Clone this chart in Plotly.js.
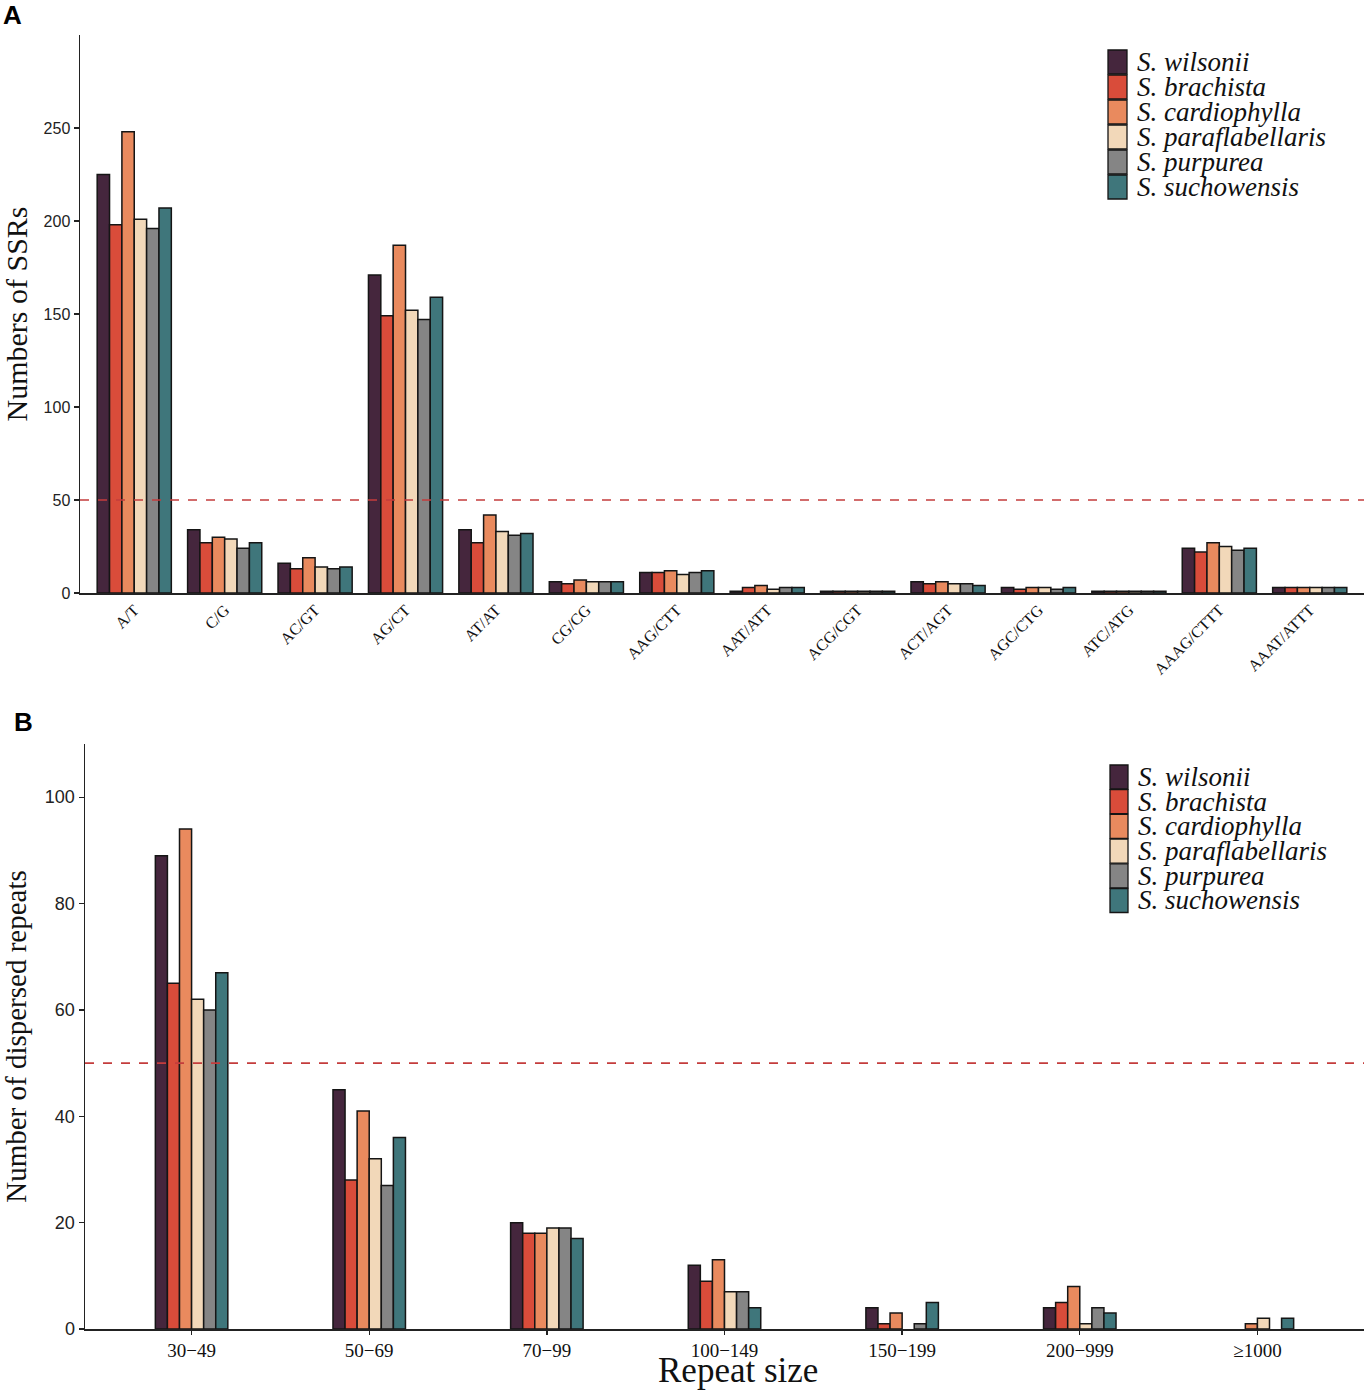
<!DOCTYPE html>
<html>
<head>
<meta charset="utf-8">
<script src="https://cdn.plot.ly/plotly-3.0.1.min.js"></script>
<style>html,body{margin:0;padding:0;background:#fff;} #chart{width:1366px;height:1392px;}</style>
</head>
<body>
<div id="chart"></div>
<script>
// ---------- data ----------
const species = ['S. wilsonii','S. brachista','S. cardiophylla','S. paraflabellaris','S. purpurea','S. suchowensis'];
const speciesColors = ['#45263d','#d94c3a','#e98a5e','#f2d8b9','#858585','#3f767b'];

const ssrTypes = ['A/T','C/G','AC/GT','AG/CT','AT/AT','CG/CG','AAG/CTT','AAT/ATT','ACG/CGT','ACT/AGT','AGC/CTG','ATC/ATG','AAAG/CTTT','AAAT/ATTT'];
const ssrWilsonii        = [225,34,16,171,34,6,11,1,1,6,3,1,24,3];
const ssrBrachista       = [198,27,13,149,27,5,11,3,1,5,2,1,22,3];
const ssrCardiophylla    = [248,30,19,187,42,7,12,4,1,6,3,1,27,3];
const ssrParaflabellaris = [201,29,14,152,33,6,10,2,1,5,3,1,25,3];
const ssrPurpurea        = [196,24,13,147,31,6,11,3,1,5,2,1,23,3];
const ssrSuchowensis     = [207,27,14,159,32,6,12,3,1,4,3,1,24,3];

const repeatSizes = ['30\u221249','50\u221269','70\u221299','100\u2212149','150\u2212199','200\u2212999','\u22651000'];
const repWilsonii        = [89,45,20,12,4,4,null];
const repBrachista       = [65,28,18,9,1,5,null];
const repCardiophylla    = [94,41,18,13,3,8,1];
const repParaflabellaris = [62,32,19,7,null,1,2];
const repPurpurea        = [60,27,19,7,1,4,null];
const repSuchowensis     = [67,36,17,4,5,3,2];

const thresholdA = 50;
const thresholdB = 50;
const yTicksA = [0,50,100,150,200,250];
const yTicksB = [0,20,40,60,80,100];

// ---------- traces ----------
const ssrSeries = [ssrWilsonii,ssrBrachista,ssrCardiophylla,ssrParaflabellaris,ssrPurpurea,ssrSuchowensis];
const repSeries = [repWilsonii,repBrachista,repCardiophylla,repParaflabellaris,repPurpurea,repSuchowensis];
const barW_B = 0.068;
const traces = [];
species.forEach((s,i)=>{
  traces.push({type:'bar', name:s, x:ssrTypes, y:ssrSeries[i], xaxis:'x', yaxis:'y',
    marker:{color:speciesColors[i], line:{color:'#151515', width:1.5}}, showlegend:false, hoverinfo:'x+y+name'});
});
species.forEach((s,i)=>{
  traces.push({type:'bar', name:s, x:repeatSizes, y:repSeries[i], xaxis:'x2', yaxis:'y2',
    width:barW_B, offset:-3*barW_B + i*barW_B,
    marker:{color:speciesColors[i], line:{color:'#151515', width:1.5}}, showlegend:false, hoverinfo:'x+y+name'});
});

// ---------- layout helpers ----------
const W = 1366, H = 1392;
const px = v => v / W;
const py = v => 1 - v / H;

const shapes = [
  {type:'line', xref:'x domain', x0:0, x1:1, yref:'y', y0:thresholdA, y1:thresholdA,
   line:{color:'#c43c3c', width:1.6, dash:'dash'}, layer:'above'},
  {type:'line', xref:'x2 domain', x0:0, x1:1, yref:'y2', y0:thresholdB, y1:thresholdB,
   line:{color:'#c43c3c', width:1.6, dash:'dash'}, layer:'above'}
];
const annotations = [
  {text:'<b>A</b>', xref:'paper', yref:'paper', x:px(1), y:py(-2), xanchor:'left', yanchor:'top', showarrow:false,
   font:{family:'Liberation Sans, Arial, sans-serif', size:26, color:'#000'}},
  {text:'<b>B</b>', xref:'paper', yref:'paper', x:px(12), y:py(705), xanchor:'left', yanchor:'top', showarrow:false,
   font:{family:'Liberation Sans, Arial, sans-serif', size:26, color:'#000'}},
  {text:'Repeat size', xref:'paper', yref:'paper', x:px(738), y:py(1392), xanchor:'center', yanchor:'bottom', showarrow:false,
   font:{family:'Liberation Serif, serif', size:35, color:'#111'}}
];

// custom legends (swatch + italic label)
function addLegend(x0, yCenter0, step, swW, swH){
  species.forEach((s,i)=>{
    const yc = yCenter0 + i*step;
    shapes.push({type:'rect', xref:'paper', yref:'paper', x0:px(x0), x1:px(x0+swW), y0:py(yc+swH/2), y1:py(yc-swH/2),
      fillcolor:speciesColors[i], line:{color:'#151515', width:1.3}});
    annotations.push({text:'<i>'+s+'</i>', xref:'paper', yref:'paper', x:px(x0+swW+8), y:py(yc), xanchor:'left', yanchor:'middle',
      showarrow:false, font:{family:'Liberation Serif, serif', size:27, color:'#111'}});
  });
}
addLegend(1108, 62, 25, 19, 24);
addLegend(1110, 777, 24.7, 18, 24);

const axisLine = {showline:true, linecolor:'#222', linewidth:1.5, zeroline:false, showgrid:false};

const layout = {
  width:W, height:H,
  margin:{l:0,r:0,t:0,b:0},
  paper_bgcolor:'#fff', plot_bgcolor:'#fff',
  barmode:'group',
  bargap:0.18,
  bargroupgap:0,
  showlegend:false,
  xaxis:Object.assign({}, axisLine, {
    domain:[px(80), px(1364)], anchor:'y', type:'category',
    range:[-0.6, 13.6], ticks:'', tickangle:-45,
    tickfont:{family:'Liberation Serif, serif', size:16, color:'#111'}
  }),
  yaxis:Object.assign({}, axisLine, {
    domain:[py(593), py(35)], anchor:'x', range:[0,300],
    tickvals:yTicksA, ticks:'outside', ticklen:5, tickwidth:1.3, tickcolor:'#222',
    tickfont:{family:'Liberation Sans, Arial, sans-serif', size:16, color:'#222'},
    title:{text:'Numbers of SSRs', standoff:16, font:{family:'Liberation Serif, serif', size:30, color:'#111'}}
  }),
  xaxis2:Object.assign({}, axisLine, {
    domain:[px(85), px(1364)], anchor:'y2', type:'category',
    range:[-0.6, 6.6], ticks:'outside', ticklen:4, tickwidth:1.3, tickcolor:'#222',
    tickfont:{family:'Liberation Serif, serif', size:19, color:'#111'}
  }),
  yaxis2:Object.assign({}, axisLine, {
    domain:[py(1329), py(744)], anchor:'x2', range:[0,110],
    tickvals:yTicksB, ticks:'outside', ticklen:5, tickwidth:1.3, tickcolor:'#222',
    tickfont:{family:'Liberation Sans, Arial, sans-serif', size:18, color:'#222'},
    title:{text:'Number of dispersed repeats', standoff:9, font:{family:'Liberation Serif, serif', size:29, color:'#111'}}
  }),
  shapes:shapes,
  annotations:annotations
};

Plotly.newPlot('chart', traces, layout, {staticPlot:true, displayModeBar:false});
</script>
</body>
</html>
